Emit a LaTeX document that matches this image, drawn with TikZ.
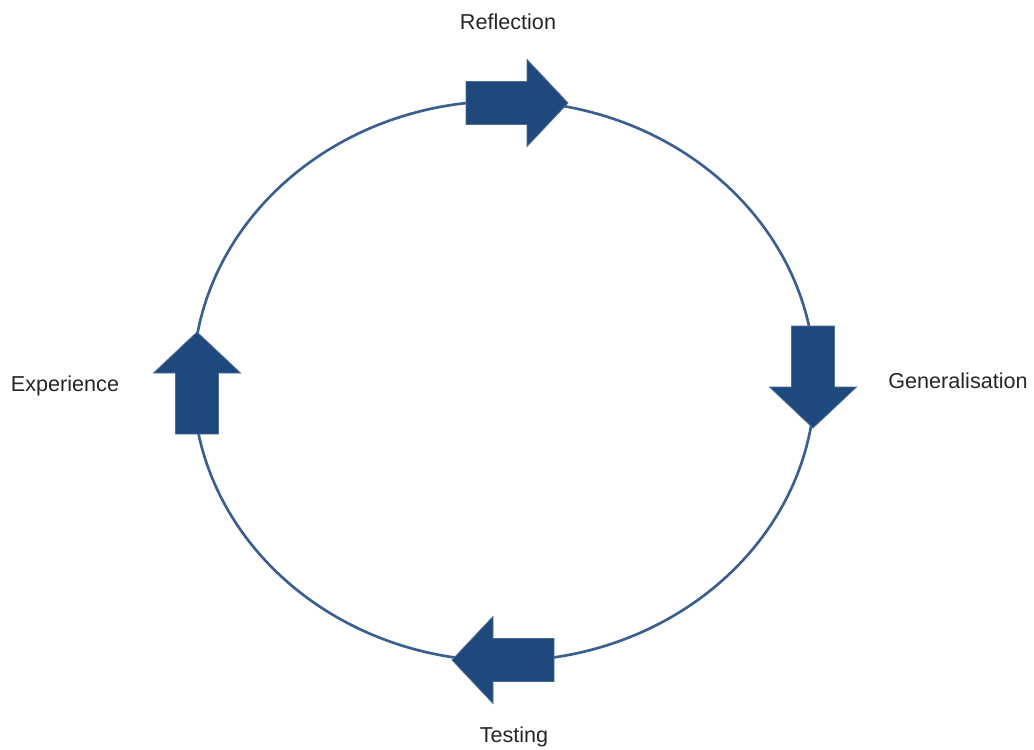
\documentclass[tikz,border=0pt]{standalone}
\usepackage{fontspec}
\setmainfont{Liberation Sans}
\usepackage{tikz}
\usetikzlibrary{positioning}
\definecolor{cycleblue}{HTML}{3B5F8E}
\definecolor{arrowblue}{HTML}{1F497D}
\tikzset{
  cycleline/.style={draw=cycleblue, line width=2pt},
  blockarr/.style={fill=arrowblue, draw=arrowblue!80!white, line width=0.6pt, line join=miter},
  stagelabel/.style={font=\fontsize{16.2}{19}\selectfont, text=black!85, inner sep=0pt}
}
% block arrow: tip at #1, turned by #2
\newcommand{\blockarrow}[2]{%
  \begin{scope}[shift={#1}, rotate=#2]
    \draw[blockarr] (0,0) -- (-41,43.5) -- (-41,21.5) -- (-102,21.5)
      -- (-102,-21.5) -- (-41,-21.5) -- (-41,-43.5) -- cycle;
  \end{scope}}

\begin{document}
\begin{tikzpicture}[x=0.75pt,y=-0.75pt]
\useasboundingbox (0,0) rectangle (1034,749);
\draw[cycleline] (504,381) ellipse [x radius=311, y radius=280];
\blockarrow{(568,103)}{0}
\blockarrow{(813,428)}{-90}
\blockarrow{(452,660)}{180}
\blockarrow{(197,332)}{90}
\node[stagelabel] (refl) at (508,22) {Reflection};
\node[stagelabel] (gen) at (958,381) {Generalisation};
\node[stagelabel] (test) at (514,737) {Testing};
\node[stagelabel] (exp) at (65,386) {Experience};
\end{tikzpicture}
\end{document}
